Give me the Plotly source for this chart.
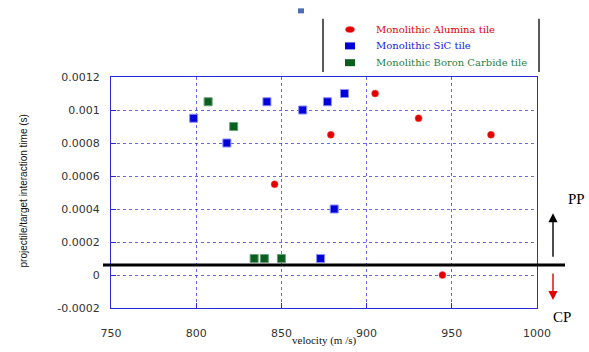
import plotly.graph_objects as go

# Monolithic alumina tiles
alumina_velocity = [846, 879, 905, 930.5, 973, 944.5]
alumina_time = [0.00055, 0.00085, 0.0011, 0.00095, 0.00085, 0.0]

# Monolithic SiC tiles
sic_velocity = [798.5, 818, 841.5, 862.5, 877, 887, 881, 873]
sic_time = [0.00095, 0.0008, 0.00105, 0.001, 0.00105, 0.0011, 0.0004, 0.0001]

# Monolithic boron carbide tiles
b4c_velocity = [807, 822, 834, 840, 850]
b4c_time = [0.00105, 0.0009, 0.0001, 0.0001, 0.0001]

# Threshold separating the two regimes
threshold_time = 0.00006

series_names = ["Monolithic Alumina tile", "Monolithic SiC tile", "Monolithic Boron Carbide tile"]

x_ticks = [750, 800, 850, 900, 950, 1000]
y_ticks = [-0.0002, 0, 0.0002, 0.0004, 0.0006, 0.0008, 0.001, 0.0012]
y_ticklabels = ["-0.0002", "0", "0.0002", "0.0004", "0.0006", "0.0008", "0.001", "0.0012"]

AXIS_BLUE = "#2a2ad6"
GRID_BLUE = "rgba(40,40,220,0.7)"

styles = [
    dict(symbol="circle", size=7, color="#e00000", edge="#ff5050", text="#e00000"),
    dict(symbol="square", size=8, color="#0000d8", edge="#8c8cff", text="#2020e0"),
    dict(symbol="square", size=8, color="#0b5e1e", edge="#6aa07a", text="#2a8040"),
]

fig = go.Figure()
for name, xs, ys, st in zip(series_names,
                            [alumina_velocity, sic_velocity, b4c_velocity],
                            [alumina_time, sic_time, b4c_time], styles):
    fig.add_trace(go.Scatter(
        x=xs, y=ys, mode="markers", name=name, showlegend=False,
        marker=dict(symbol=st["symbol"], size=st["size"], color=st["color"],
                    line=dict(color=st["edge"], width=1 if st["symbol"] == "square" else 0.5)),
    ))

W_PLOT, H_PLOT, LEFT, BOTTOM = 426, 234, 111, 311


def px(x):
    return (x - LEFT) / W_PLOT


def py(y):
    return (BOTTOM - y) / H_PLOT


shapes = [
    # thick threshold line running past both plot edges
    dict(type="line", xref="paper", yref="y", x0=px(103), x1=px(565),
         y0=threshold_time, y1=threshold_time,
         line=dict(color="black", width=3)),
    # legend side rules
    dict(type="line", xref="paper", yref="paper", x0=px(323), x1=px(323),
         y0=py(72), y1=py(18), line=dict(color="#222", width=1.5)),
    dict(type="line", xref="paper", yref="paper", x0=px(539), x1=px(539),
         y0=py(72), y1=py(18), line=dict(color="#222", width=1.5)),
    # small square mark above the chart
    dict(type="rect", xref="paper", yref="paper", xsizemode="pixel", ysizemode="pixel",
         xanchor=px(301), yanchor=py(10), x0=-3, x1=3, y0=-2.5, y1=2.5,
         fillcolor="#4a6fb0", line=dict(width=0)),
]

annotations = []

# legend: symbol + coloured label per series
legend_rows = [29, 45.5, 62.5]
for name, st, row in zip(series_names, styles, legend_rows):
    if st["symbol"] == "circle":
        shapes.append(dict(type="circle", xref="paper", yref="paper",
                           xsizemode="pixel", ysizemode="pixel",
                           xanchor=px(350), yanchor=py(row), x0=-4.5, x1=4.5, y0=-3, y1=3,
                           fillcolor=st["color"], line=dict(color=st["edge"], width=0.5)))
    else:
        shapes.append(dict(type="rect", xref="paper", yref="paper",
                           xsizemode="pixel", ysizemode="pixel",
                           xanchor=px(350), yanchor=py(row), x0=-5, x1=5, y0=-3.5, y1=3.5,
                           fillcolor=st["color"], line=dict(width=0)))
    annotations.append(dict(text=name, xref="paper", yref="paper", x=px(374), y=py(row),
                            xanchor="left", yanchor="middle", showarrow=False,
                            font=dict(family="DejaVu Serif", size=10, color=st["text"])))

annotations += [
    dict(text="projectile/target interaction time (s)", xref="paper", yref="paper",
         x=px(24), y=py(193), xanchor="center", yanchor="middle", textangle=-90,
         showarrow=False, font=dict(family="Liberation Sans", size=10, color="#111")),
    dict(text="velocity (m /s)", xref="paper", yref="paper",
         x=0.5, y=py(344), xanchor="center", yanchor="middle", showarrow=False,
         font=dict(family="Liberation Serif", size=11, color="#111")),
    # regime arrows
    dict(text="", xref="paper", yref="paper", x=px(553), y=py(215),
         ax=0, ay=45, axref="pixel", ayref="pixel", showarrow=True,
         arrowhead=2, arrowsize=1.3, arrowwidth=1.4, arrowcolor="black"),
    dict(text="", xref="paper", yref="paper", x=px(553), y=py(303),
         ax=0, ay=-28, axref="pixel", ayref="pixel", showarrow=True,
         arrowhead=2, arrowsize=1.3, arrowwidth=1.4, arrowcolor="#e00000"),
    dict(text="PP", xref="paper", yref="paper", x=px(576), y=py(201),
         xanchor="center", yanchor="middle", showarrow=False,
         font=dict(family="Liberation Serif", size=15, color="black")),
    dict(text="CP", xref="paper", yref="paper", x=px(562), y=py(320),
         xanchor="center", yanchor="middle", showarrow=False,
         font=dict(family="Liberation Serif", size=15, color="black")),
]

axis_common = dict(
    showline=True, linecolor=AXIS_BLUE, linewidth=1.2, mirror=True,
    showgrid=True, gridcolor=GRID_BLUE, gridwidth=1, griddash="dot",
    ticks="inside", ticklen=5, tickcolor=AXIS_BLUE, zeroline=False,
    tickfont=dict(family="DejaVu Sans", size=11, color="#333"),
)

fig.update_layout(
    width=589, height=352,
    margin=dict(l=111, r=52, t=77, b=41),
    paper_bgcolor="white", plot_bgcolor="white",
    showlegend=False,
    xaxis=dict(range=[750, 1000], tickvals=x_ticks, ticklabelstandoff=15, **axis_common),
    yaxis=dict(range=[-0.0002, 0.0012], tickvals=y_ticks, ticktext=y_ticklabels,
               ticklabelstandoff=8, **axis_common),
    shapes=shapes,
    annotations=annotations,
    hovermode=False,
)

fig.write_html("out.html")
